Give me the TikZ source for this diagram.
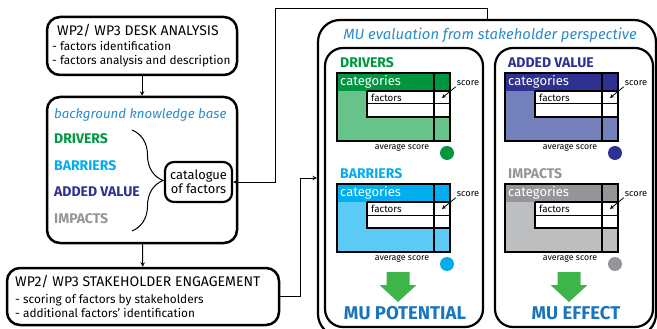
\documentclass[tikz,border=0pt]{standalone}
\usepackage{fontspec}
\setmainfont{Fira Sans}
\usetikzlibrary{arrows,calc,decorations.pathreplacing}
\definecolor{drvdark}{RGB}{0,150,64}
\definecolor{drvlight}{RGB}{102,196,138}
\definecolor{barrdark}{RGB}{0,174,239}
\definecolor{barrlight}{RGB}{91,203,245}
\definecolor{addvdark}{RGB}{46,49,146}
\definecolor{addvlight}{RGB}{116,128,186}
\definecolor{impdark}{RGB}{147,149,152}
\definecolor{implight}{RGB}{188,190,192}
\definecolor{arrowgreen}{RGB}{61,181,74}
\definecolor{mublue}{RGB}{27,117,188}
\definecolor{titleblue}{RGB}{43,138,203}

\begin{document}
\begin{tikzpicture}[x=1pt, y=-1pt, >=stealth,
    panel/.style={draw, line width=2.5pt, rounded corners=13pt, inner sep=0},
    frame/.style={draw, line width=2.2pt, rounded corners=22pt, inner sep=0},
    txt/.style={anchor=west, inner sep=0},
    link/.style={->, line width=1pt}]

    \useasboundingbox (0,0) rectangle (657,329);

    % left column
    \node[panel, minimum width=190pt, minimum height=58pt] (desk) at (142,46) {};
    \node[txt, font=\fontsize{14}{15}\selectfont] (desktitle) at (57,31) {WP2/ WP3 DESK ANALYSIS};
    \node[txt, align=left, font=\fontsize{11.8}{14}\selectfont] (desklist) at (52,54) {- factors identification\\- factors analysis and description};

    \node[panel, minimum width=190pt, minimum height=146pt] (bg) at (142,170) {};
    \node[txt, text=titleblue, font=\fontsize{13.3}{15}\selectfont\itshape] (bgtitle) at (54,115) {background knowledge base};
    \node[txt, text=drvdark, font=\fontsize{14}{15}\selectfont\bfseries] (kdrv) at (54,139) {DRIVERS};
    \node[txt, text=barrdark, font=\fontsize{14}{15}\selectfont\bfseries] (kbarr) at (54,166) {BARRIERS};
    \node[txt, text=addvdark, font=\fontsize{14}{15}\selectfont\bfseries] (kaddv) at (54,192) {ADDED VALUE};
    \node[txt, text=impdark, font=\fontsize{14}{15}\selectfont\bfseries] (kimp) at (54,219) {IMPACTS};
    \node[panel, line width=2.2pt, rounded corners=9pt, minimum width=67pt, minimum height=40pt, align=center,
        font=\fontsize{12.9}{14}\selectfont] (cat) at (198.5,182) {catalogue\\of factors};
    \coordinate (bracetop) at (132,130);
    \coordinate (bracebot) at (132,231);
    \draw[line width=1pt, decorate, decoration={brace, amplitude=31pt, aspect=0.5}] (bracetop) -- (bracebot);

    \node[panel, minimum width=272pt, minimum height=57pt] (stake) at (143,296.5) {};
    \node[txt, font=\fontsize{14}{15}\selectfont] (staketitle) at (15,282) {WP2/ WP3 STAKEHOLDER ENGAGEMENT};
    \node[txt, align=left, font=\fontsize{11.8}{14}\selectfont] (stakelist) at (15,306) {- scoring of factors by stakeholders\\- additional factors' identification};

    % right side
    \node[frame, minimum width=338pt, minimum height=316pt] (mu) at (487,178) {};
    \node[text=titleblue, inner sep=0, font=\fontsize{14.8}{16}\selectfont\itshape] (mutitle) at (490,35) {MU evaluation from stakeholder perspective};
    \node[frame, rounded corners=18pt, minimum width=158pt, minimum height=279pt] (potbox) at (404,187.5) {};
    \node[frame, rounded corners=18pt, minimum width=158pt, minimum height=279pt] (effbox) at (574,187.5) {};

    \foreach \dx/\dy/\dk/\lt/\ttl/\nm in {0/0/drvdark/drvlight/DRIVERS/drv, 0/111/barrdark/barrlight/BARRIERS/barr,
        168/0/addvdark/addvlight/ADDED VALUE/addv, 168/111/impdark/implight/IMPACTS/imp}{
      \begin{scope}[shift={(337+\dx,73+\dy)}]
        \fill[\lt] (0,18) rectangle (113,68);
        \fill[\dk] (0,0) rectangle (113,18);
        \fill[white] (30,18) rectangle (113,44);
        \draw[line width=1pt] (30,31) -- (113,31);
        \draw[line width=2pt] (30,18) -- (113,18);
        \draw[line width=2pt] (30,18) -- (30,44) -- (113,44);
        \draw[line width=2pt] (97,0) -- (97,68);
        \draw[line width=2.5pt] (0,0) rectangle (113,68);
        \node[txt, text=white, font=\fontsize{13}{14}\selectfont] (\nm-cat) at (3,9) {categories};
        \node[txt, font=\fontsize{9.8}{10}\selectfont] (\nm-fac) at (34,24.5) {factors};
        \node[txt, text=\dk, font=\fontsize{14}{15}\selectfont\bfseries] (\nm-ttl) at (3,-10) {\ttl};
        \coordinate (\nm-cell) at (105,25);
        \node[inner sep=1pt, font=\fontsize{9.2}{10}\selectfont] (\nm-score) at (131,10) {score};
        \draw[-stealth, line width=0.8pt] (\nm-score.south west) -- (\nm-cell);
        \node[inner sep=0, font=\fontsize{8.8}{10}\selectfont] (\nm-avg) at (65,75) {average score};
        \node[circle, fill=\dk, minimum size=14pt, inner sep=0] (\nm-dot) at (110,80) {};
      \end{scope}}

    \foreach \cx/\lbl/\nm in {398/MU POTENTIAL/pot, 569/MU EFFECT/eff}{
      \fill[arrowgreen] (\cx-11.5,272) -- (\cx+11.5,272) -- (\cx+11.5,285) -- (\cx+18.5,285)
          -- (\cx,302) -- (\cx-18.5,285) -- (\cx-11.5,285) -- cycle;
      \node[inner sep=0, text=mublue, font=\fontsize{18.5}{20}\selectfont\bfseries] (\nm-lbl) at (\cx+7,313) {\lbl};
    }

    % connectors
    \draw[link] (desk) -- (bg);
    \draw[link] (bg) -- (stake);
    \coordinate (turnA) at (275,9);
    \draw[link] (mu.north) |- (turnA) |- (cat.east);
    \coordinate (turnB) at (300,178);
    \draw[link] (stake.east) -| (turnB) -- (mu.west);

\end{tikzpicture}
\end{document}
